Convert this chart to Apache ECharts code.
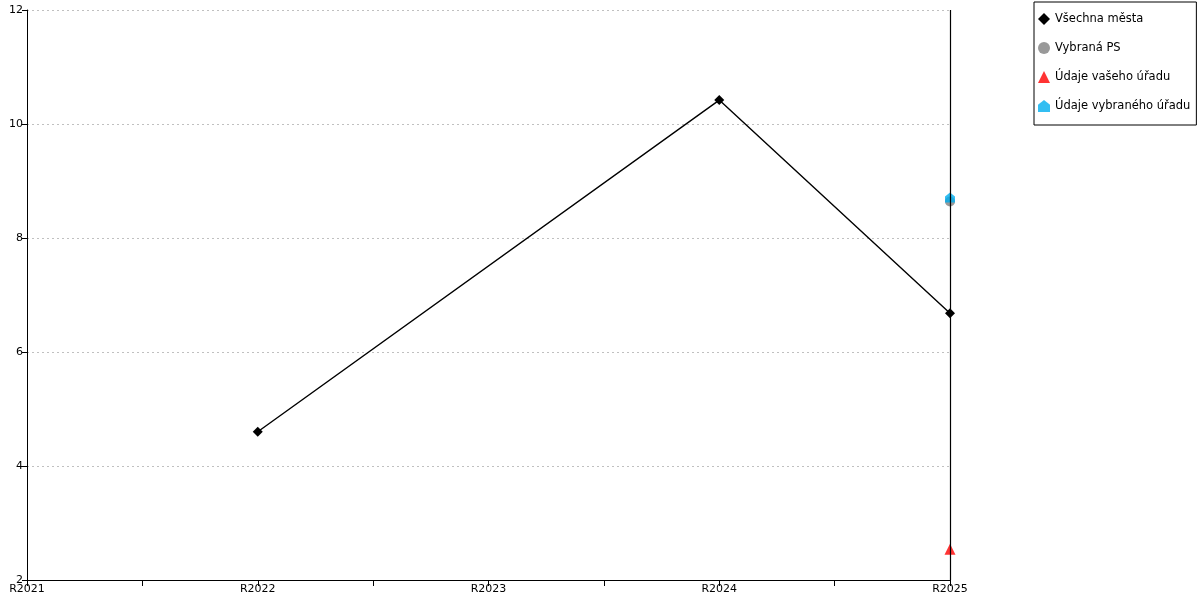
<!DOCTYPE html>
<html><head><meta charset="utf-8">
<script src="https://cdn.jsdelivr.net/npm/echarts@6/dist/echarts.min.js"></script>
<style>html,body{margin:0;padding:0;background:#fff}#c{width:1200px;height:600px}</style>
</head><body><div id="c"></div>
<script>
var categories = ["R2021","R2022","R2023","R2024","R2025"];
var vsechnaMesta = [null, 4.6, null, 10.42, 6.68];
var vybranaPS = [null, null, null, null, 8.64];
var udajeVaseho = [null, null, null, null, 2.54];
var udajeVybraneho = [null, null, null, null, 8.71];
var yTicks = [2,4,6,8,10,12];

function pts(arr){ var o=[]; arr.forEach(function(v,i){ if(v!==null) o.push([i,v]); }); return o; }
var house = 'path://M5,0 L10,4 L10,10 L0,10 L0,4 Z';
var font = 'DejaVu Sans';
var chart = echarts.init(document.getElementById('c'), null, {renderer:'canvas'});
chart.setOption({
  animation:false,
  textStyle:{fontFamily:font},
  grid:{left:27,right:250,top:10,bottom:20,containLabel:false},
  xAxis:{type:'value',min:0,max:categories.length-1,interval:0.5,
    axisLine:{lineStyle:{color:'#000',width:1}},
    axisTick:{show:true,inside:false,length:6,lineStyle:{color:'#000'}},
    axisLabel:{color:'#000',fontSize:11,fontFamily:font,margin:4,
      formatter:function(v){ return Number.isInteger(v)?categories[v]:''; }},
    splitLine:{show:false}},
  yAxis:{type:'value',min:yTicks[0],max:yTicks[yTicks.length-1],interval:2,
    axisLine:{show:true,lineStyle:{color:'#000',width:1}},
    axisTick:{show:true,length:5,lineStyle:{color:'#000'}},
    axisLabel:{color:'#000',fontSize:11,fontFamily:font,margin:4},
    splitLine:{show:true,lineStyle:{color:'#c0c0c0',type:[2,3],width:1}}},
  legend:{orient:'vertical',left:1034,top:2,padding:[11,6,13,4],itemGap:17,
    itemWidth:12,itemHeight:12,borderColor:'#000',borderWidth:1,
    textStyle:{color:'#000',fontSize:11.5,fontFamily:font},
    data:[{name:'Všechna města',icon:'diamond'},{name:'Vybraná PS',icon:'circle'},
          {name:'Údaje vašeho úřadu',icon:'triangle'},{name:'Údaje vybraného úřadu',icon:house}]},
  series:[
    {name:'Všechna města',type:'line',data:pts(vsechnaMesta),connectNulls:true,
      symbol:'diamond',symbolSize:10,itemStyle:{color:'#000'},lineStyle:{color:'#000',width:1.4},
      markLine:{silent:true,symbol:'none',label:{show:false},lineStyle:{color:'#000',type:'solid',width:1.2},
        data:[{xAxis:categories.length-1}]}},
    {name:'Vybraná PS',type:'scatter',data:pts(vybranaPS),symbol:'circle',symbolSize:10,itemStyle:{color:'#808080'},z:3},
    {name:'Údaje vašeho úřadu',type:'scatter',data:pts(udajeVaseho),symbol:'triangle',symbolSize:11,itemStyle:{color:'#ff0000'},z:4},
    {name:'Údaje vybraného úřadu',type:'scatter',data:pts(udajeVybraneho),symbol:house,symbolSize:10,itemStyle:{color:'#00aeef'},z:4}
  ]
});
</script></body></html>
